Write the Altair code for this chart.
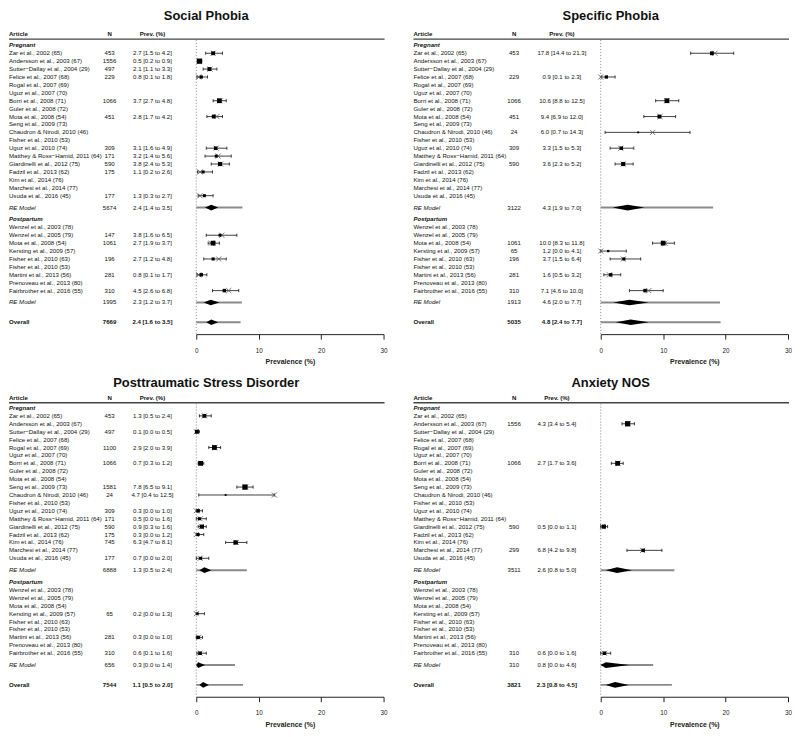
import altair as alt
import pandas as pd

FONT = "Liberation Sans"

PREG_ARTICLES = [
    "Zar et al., 2002 (65)",
    "Andersson et al., 2003 (67)",
    "Sutter\u2212Dallay et al., 2004 (29)",
    "Felice et al., 2007 (68)",
    "Rogal et al., 2007 (69)",
    "Uguz et al., 2007 (70)",
    "Borri et al., 2008 (71)",
    "Guler et al., 2008 (72)",
    "Mota et al., 2008 (54)",
    "Seng et al., 2009 (73)",
    "Chaudron & Nirodi, 2010 (46)",
    "Fisher et al., 2010 (53)",
    "Uguz et al., 2010 (74)",
    "Matthey & Ross\u2212Hamid, 2011 (64)",
    "Giardinelli et al., 2012 (75)",
    "Fadzil et al., 2013 (62)",
    "Kim et al., 2014 (76)",
    "Marchesi et al., 2014 (77)",
    "Usuda et al., 2016 (45)",
]
POST_ARTICLES = [
    "Wenzel et al., 2003 (78)",
    "Wenzel et al., 2005 (79)",
    "Mota et al., 2008 (54)",
    "Kersting et al., 2009 (57)",
    "Fisher et al., 2010 (63)",
    "Fisher et al., 2010 (53)",
    "Martini et al., 2013 (56)",
    "Prenoveau et al., 2013 (80)",
    "Fairbrother et al., 2016 (55)",
]

# (article, N, estimate, lower, upper, raw proportion)
SOCIAL_PREG = [
    ("Zar et al., 2002 (65)", 453, 2.7, 1.5, 4.2, 2.7),
    ("Andersson et al., 2003 (67)", 1556, 0.5, 0.2, 0.9, 0.5),
    ("Sutter\u2212Dallay et al., 2004 (29)", 497, 2.1, 1.1, 3.3, 2.2),
    ("Felice et al., 2007 (68)", 229, 0.8, 0.1, 1.8, 0.4),
    ("Borri et al., 2008 (71)", 1066, 3.7, 2.7, 4.8, 3.8),
    ("Mota et al., 2008 (54)", 451, 2.8, 1.7, 4.2, 3.3),
    ("Uguz et al., 2010 (74)", 309, 3.1, 1.6, 4.9, 3.2),
    ("Matthey & Ross\u2212Hamid, 2011 (64)", 171, 3.2, 1.4, 5.6, 3.5),
    ("Giardinelli et al., 2012 (75)", 590, 3.8, 2.4, 5.3, 3.9),
    ("Fadzil et al., 2013 (62)", 175, 1.1, 0.2, 2.6, 0.6),
    ("Usuda et al., 2016 (45)", 177, 1.3, 0.3, 2.7, 0.6),
]
SOCIAL_POST = [
    ("Wenzel et al., 2005 (79)", 147, 3.8, 1.6, 6.5, 4.1),
    ("Mota et al., 2008 (54)", 1061, 2.7, 1.9, 3.7, 2.4),
    ("Fisher et al., 2010 (63)", 196, 2.7, 1.2, 4.8, 3.6),
    ("Martini et al., 2013 (56)", 281, 0.8, 0.1, 1.7, 0.4),
    ("Fairbrother et al., 2016 (55)", 310, 4.5, 2.6, 6.8, 5.2),
]
# (N, estimate, lower, upper, prediction lower, prediction upper): RE pregnant, RE postpartum, overall
SOCIAL_POOLED = [
    (5674, 2.4, 1.4, 3.5, 0.0, 7.4),
    (1995, 2.3, 1.2, 3.7, 0.0, 7.3),
    (7669, 2.4, 1.6, 3.5, 0.0, 7.1),
]

SPECIFIC_PREG = [
    ("Zar et al., 2002 (65)", 453, 17.8, 14.4, 21.3, 18.3),
    ("Felice et al., 2007 (68)", 229, 0.9, 0.1, 2.3, 0.0),
    ("Borri et al., 2008 (71)", 1066, 10.6, 8.8, 12.5, 10.6),
    ("Mota et al., 2008 (54)", 451, 9.4, 6.9, 12.0, 9.5),
    ("Chaudron & Nirodi, 2010 (46)", 24, 6.0, 0.7, 14.3, 8.3),
    ("Uguz et al., 2010 (74)", 309, 3.3, 1.5, 5.3, 3.2),
    ("Giardinelli et al., 2012 (75)", 590, 3.6, 2.3, 5.2, 3.6),
]
SPECIFIC_POST = [
    ("Mota et al., 2008 (54)", 1061, 10.0, 8.3, 11.8, 10.3),
    ("Kersting et al., 2009 (57)", 65, 1.2, 0.0, 4.1, 0.0),
    ("Fisher et al., 2010 (63)", 196, 3.7, 1.5, 6.4, 3.6),
    ("Martini et al., 2013 (56)", 281, 1.6, 0.5, 3.2, 1.4),
    ("Fairbrother et al., 2016 (55)", 310, 7.1, 4.6, 10.0, 7.7),
]
SPECIFIC_POOLED = [
    (3122, 4.3, 1.9, 7.0, 0.0, 18.0),
    (1913, 4.6, 2.0, 7.7, 0.0, 19.1),
    (5035, 4.8, 2.4, 7.7, 0.0, 19.2),
]

PTSD_PREG = [
    ("Zar et al., 2002 (65)", 453, 1.3, 0.5, 2.4, 1.3),
    ("Sutter\u2212Dallay et al., 2004 (29)", 497, 0.1, 0.0, 0.5, 0.0),
    ("Rogal et al., 2007 (69)", 1100, 2.9, 2.0, 3.9, 3.0),
    ("Borri et al., 2008 (71)", 1066, 0.7, 0.3, 1.2, 0.7),
    ("Seng et al., 2009 (73)", 1581, 7.8, 6.5, 9.1, 7.9),
    ("Chaudron & Nirodi, 2010 (46)", 24, 4.7, 0.4, 12.5, 12.5),
    ("Uguz et al., 2010 (74)", 309, 0.3, 0.0, 1.0, 0.0),
    ("Matthey & Ross\u2212Hamid, 2011 (64)", 171, 0.5, 0.0, 1.6, 0.6),
    ("Giardinelli et al., 2012 (75)", 590, 0.9, 0.3, 1.6, 0.8),
    ("Fadzil et al., 2013 (62)", 175, 0.3, 0.0, 1.2, 0.0),
    ("Kim et al., 2014 (76)", 745, 6.3, 4.7, 8.1, 6.4),
    ("Usuda et al., 2016 (45)", 177, 0.7, 0.0, 2.0, 0.6),
]
PTSD_POST = [
    ("Kersting et al., 2009 (57)", 65, 0.2, 0.0, 1.3, 0.0),
    ("Martini et al., 2013 (56)", 281, 0.3, 0.0, 1.0, 0.4),
    ("Fairbrother et al., 2016 (55)", 310, 0.6, 0.1, 1.6, 0.6),
]
PTSD_POOLED = [
    (6888, 1.3, 0.5, 2.4, 0.0, 8.1),
    (656, 0.3, 0.0, 1.4, 0.0, 6.2),
    (7544, 1.1, 0.5, 2.0, 0.0, 7.5),
]

ANXIETY_PREG = [
    ("Andersson et al., 2003 (67)", 1556, 4.3, 3.4, 5.4, 4.4),
    ("Borri et al., 2008 (71)", 1066, 2.7, 1.7, 3.6, 2.8),
    ("Giardinelli et al., 2012 (75)", 590, 0.5, 0.0, 1.1, 0.3),
    ("Marchesi et al., 2014 (77)", 299, 6.8, 4.2, 9.8, 6.7),
]
ANXIETY_POST = [
    ("Fairbrother et al., 2016 (55)", 310, 0.6, 0.0, 1.6, 0.6),
]
ANXIETY_POOLED = [
    (3511, 2.6, 0.8, 5.0, 0.0, 11.8),
    (310, 0.8, 0.0, 4.6, 0.0, 8.4),
    (3821, 2.3, 0.8, 4.5, 0.0, 11.4),
]

X_TICKS = [0, 10, 20, 30]

# ---------------- layout ----------------
ROW_PX = 7.94
Y_TOP = -4.42
Y_BOTTOM = 36.5
PANEL_W = 380
PANEL_H = round((Y_BOTTOM - Y_TOP) * ROW_PX)
PLOT_X0, PLOT_X1 = 188, 376
HEADER_ROW = -1.4
LINE_ROW = -0.78
PREG_ROW = 0
RE1_ROW = 20.5
POST_ROW = 22
RE2_ROW = 32.5
OVERALL_ROW = 35
DIAMOND_HALF = 0.36
FS = 6.1

X_SCALE = alt.Scale(domain=[X_TICKS[0], X_TICKS[-1]], range=[PLOT_X0, PLOT_X1], nice=False, zero=False)
Y_SCALE = alt.Scale(domain=[Y_TOP, Y_BOTTOM], reverse=True, nice=False, zero=False)
X_AXIS = alt.Axis(values=X_TICKS, title="Prevalence (%)", grid=False, domainColor="#222",
                  tickColor="#222", tickSize=5, labelFontSize=6.4, labelColor="#222",
                  labelPadding=8, titleFontSize=7, titleFontWeight="bold", titleColor="#222",
                  titlePadding=4, labelFont=FONT, titleFont=FONT, labelFlush=False)


def X(field):
    return alt.X(field, type="quantitative", scale=X_SCALE, axis=X_AXIS)


def Y(field="row"):
    return alt.Y(field, type="quantitative", scale=Y_SCALE, axis=None)


STYLES = {
    "normal": {},
    "bold": {"fontWeight": "bold"},
    "italic": {"fontStyle": "italic"},
    "bolditalic": {"fontWeight": "bold", "fontStyle": "italic"},
    "title": {"fontWeight": "bold", "fontSize": 13},
}


def fmt(est, lo, hi):
    return f"{est:.1f} [{lo:.1f} to {hi:.1f}]"


def panel(title, preg, post, pooled, prev_x, title_row, head_shift):
    cols = {"label": (0, "left"), "n": (101, "center"), "prev": (prev_x, "center"),
            "title": (198, "center")}
    texts = []

    def add(row, col, text, style):
        texts.append(dict(row=row, col=col, text=text, style=style))

    add(title_row, "title", title, "title")
    add(HEADER_ROW + head_shift, "label", "Article", "bold")
    add(HEADER_ROW + head_shift, "n", "N", "bold")
    add(HEADER_ROW + head_shift, "prev", "Prev. (%)", "bold")
    add(PREG_ROW, "label", "Pregnant", "bolditalic")
    add(POST_ROW, "label", "Postpartum", "bolditalic")
    for i, a in enumerate(PREG_ARTICLES):
        add(PREG_ROW + 1 + i, "label", a, "normal")
    for i, a in enumerate(POST_ARTICLES):
        add(POST_ROW + 1 + i, "label", a, "normal")

    pts = []
    for studies, arts, base in ((preg, PREG_ARTICLES, PREG_ROW), (post, POST_ARTICLES, POST_ROW)):
        for art, n, est, lo, hi, raw in studies:
            r = base + 1 + arts.index(art)
            pts.append(dict(row=r, n=n, est=est, lo=lo, hi=hi, raw=raw))
            add(r, "n", str(n), "normal")
            add(r, "prev", fmt(est, lo, hi), "normal")
    pts = pd.DataFrame(pts)

    pool_rows = [RE1_ROW, RE2_ROW, OVERALL_ROW]
    pool_labels = [("RE Model", "italic", "normal"), ("RE Model", "italic", "normal"),
                   ("Overall", "bold", "bold")]
    pool = []
    dia = []
    for k, ((n, est, lo, hi, plo, phi), r, (lab, lst, vst)) in enumerate(zip(pooled, pool_rows, pool_labels)):
        add(r, "label", lab, lst)
        add(r, "n", str(n), vst)
        add(r, "prev", fmt(est, lo, hi), vst)
        pool.append(dict(row=r, est=est, lo=lo, hi=hi, plo=plo, phi=phi))
        for xv, h in ((lo, 0.0), (est, DIAMOND_HALF), (hi, 0.0)):
            dia.append(dict(g=k, x=xv, yt=r - h, yb=r + h))
    pool = pd.DataFrame(pool)
    dia = pd.DataFrame(dia)
    texts = pd.DataFrame(texts)

    line_row = LINE_ROW + head_shift * 0.6
    layers = []
    # header rule
    layers.append(alt.Chart(pd.DataFrame({"row": [line_row]})).mark_rule(
        color="#444", strokeWidth=1.4).encode(
        x=alt.value(0), x2=alt.value(PANEL_W - 3), y=Y("row")))
    # zero reference line
    layers.append(alt.Chart(pd.DataFrame({"x": [0], "r1": [line_row + 0.1], "r2": [Y_BOTTOM]})).mark_rule(
        color="#999", strokeDash=[1.2, 1.8], strokeWidth=1).encode(
        x=X("x"), y=Y("r1"), y2=alt.Y2("r2")))
    # prediction intervals
    layers.append(alt.Chart(pool).mark_rule(color="#8a8a8a", strokeWidth=2).encode(
        x=X("plo"), x2=alt.X2("phi"), y=Y("row")))
    # diamonds
    layers.append(alt.Chart(dia).mark_area(color="black", orient="vertical").encode(
        x=X("x"), y=Y("yt"), y2=alt.Y2("yb"), detail="g:N"))
    # study CI lines + caps
    layers.append(alt.Chart(pts).mark_rule(color="#111", strokeWidth=0.8).encode(
        x=X("lo"), x2=alt.X2("hi"), y=Y("row")))
    for f in ("lo", "hi"):
        layers.append(alt.Chart(pts).mark_point(shape="M0,-1V1", filled=False, color="#111",
                                                strokeWidth=0.8, size=10, opacity=1).encode(
            x=X(f), y=Y("row")))
    # raw proportion crosses
    layers.append(alt.Chart(pts).mark_point(shape="M-1,-1L1,1M-1,1L1,-1", filled=False,
                                            color="#555", strokeWidth=0.8, size=26, opacity=1).encode(
        x=X("raw"), y=Y("row")))
    # estimates
    layers.append(alt.Chart(pts).mark_point(shape="square", filled=True, color="black", opacity=1).encode(
        x=X("est"), y=Y("row"),
        size=alt.Size("n:Q", scale=alt.Scale(type="sqrt", domain=[0, 1600], range=[0, 28]), legend=None)))
    # texts
    for (col, style), sub in texts.groupby(["col", "style"]):
        xpx, align = cols[col]
        props = dict(fontSize=FS, font=FONT, color="#111", align=align, baseline="middle")
        props.update(STYLES[style])
        layers.append(alt.Chart(sub).mark_text(**props).encode(
            x=alt.value(xpx), y=Y("row"), text="text:N"))

    return alt.layer(*layers).properties(width=PANEL_W, height=PANEL_H)


p1 = panel("Social Phobia", SOCIAL_PREG, SOCIAL_POST, SOCIAL_POOLED, 144, -3.75, 0.0)
p2 = panel("Specific Phobia", SPECIFIC_PREG, SPECIFIC_POST, SPECIFIC_POOLED, 149, -3.75, 0.0)
p3 = panel("Posttraumatic Stress Disorder", PTSD_PREG, PTSD_POST, PTSD_POOLED, 144, -3.1, 0.2)
p4 = panel("Anxiety NOS", ANXIETY_PREG, ANXIETY_POST, ANXIETY_POOLED, 144, -3.1, 0.2)

chart = alt.vconcat(
    alt.hconcat(p1, p2, spacing=25),
    alt.hconcat(p3, p4, spacing=25),
    spacing=8, padding=0,
).configure_view(stroke=None)

chart.save("out.html", embed_options={"renderer": "svg", "actions": False})
